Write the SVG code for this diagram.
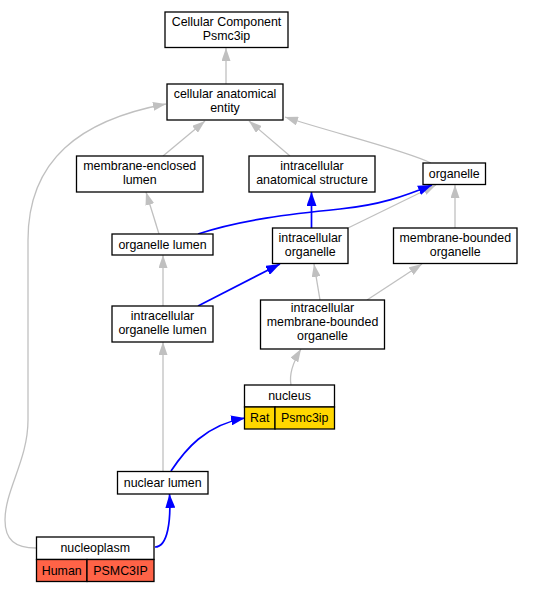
<svg xmlns="http://www.w3.org/2000/svg" width="533" height="592" viewBox="0 0 533 592">
<style>
.box{fill:#ffffff;stroke:#000000;stroke-width:1.3}
.rat{fill:#ffd700;stroke:#000000;stroke-width:1.3}
.hum{fill:#ff6347;stroke:#000000;stroke-width:1.3}
text{font-family:"Liberation Sans",Arial,sans-serif;font-size:12.4px;fill:#000000;text-anchor:middle}
.g{fill:none;stroke:#c0c0c0;stroke-width:1.3;marker-end:url(#ag)}
.b{fill:none;stroke:#0000ff;stroke-width:1.7;marker-end:url(#ab)}
</style>
<defs>
<marker id="ag" viewBox="0 0 13 9" markerWidth="13" markerHeight="9" refX="13" refY="4.5" orient="auto" markerUnits="userSpaceOnUse"><path d="M0,0 L13,4.5 L0,9 z" fill="#c0c0c0"/></marker>
<marker id="ab" viewBox="0 0 14 10" markerWidth="14" markerHeight="10" refX="14" refY="5" orient="auto" markerUnits="userSpaceOnUse"><path d="M0,0 L14,5 L0,10 z" fill="#0000ff"/></marker>
</defs>
<rect width="533" height="592" fill="#ffffff"/>
<g id="connectors">
<path class="g" d="M226,84 L226,48"/>
<path class="g" d="M163,156 L205,121"/>
<path class="g" d="M290,156 L249,121"/>
<path class="g" d="M431,163 C405,150 330,132 285,117"/>
<path class="g" d="M36,548 C15,548 5,540 5,520 C5,490 28,460 28,420 L28,240 C28,160 80,120 166,104"/>
<path class="g" d="M159,234 L146,192"/>
<path class="g" d="M348,228 L436,185"/>
<path class="g" d="M455,228 L455,185"/>
<path class="g" d="M163,306 L163,255"/>
<path class="g" d="M320,300 L314,264"/>
<path class="g" d="M367,300 L422,264"/>
<path class="g" d="M291,385 C289,375 292,364 301,349"/>
<path class="g" d="M163,471 L163,342"/>
<path class="b" d="M311.5,228 L311.5,192"/>
<path class="b" d="M198,234 C240,220 290,214 340,209 C380,205 405,196 432,185"/>
<path class="b" d="M198,306 L280,264"/>
<path class="b" d="M171,471 C185,450 205,425 245,418"/>
<path class="b" d="M155,547 C168,547 171,520 169.5,494"/>
</g>
<g id="cellular-component">
<rect class="box" x="165" y="12" width="123" height="35.5"/>
<text x="226.5" y="25.6">Cellular Component</text>
<text x="226.5" y="39.6">Psmc3ip</text>
</g>
<g id="cellular-anatomical-entity">
<rect class="box" x="167" y="84" width="116" height="36"/>
<text x="225" y="97.7">cellular anatomical</text>
<text x="225" y="111.7">entity</text>
</g>
<g id="membrane-enclosed-lumen">
<rect class="box" x="76.5" y="156" width="126.5" height="36"/>
<text x="139.75" y="169.7">membrane-enclosed</text>
<text x="139.75" y="183.7">lumen</text>
</g>
<g id="intracellular-anatomical-structure">
<rect class="box" x="249" y="156" width="126" height="36"/>
<text x="312" y="169.7">intracellular</text>
<text x="312" y="183.7">anatomical structure</text>
</g>
<g id="organelle">
<rect class="box" x="423" y="163" width="62.5" height="21.5"/>
<text x="454.25" y="178">organelle</text>
</g>
<g id="organelle-lumen">
<rect class="box" x="112" y="234" width="101" height="21"/>
<text x="162.5" y="248.8">organelle lumen</text>
</g>
<g id="intracellular-organelle">
<rect class="box" x="272.5" y="228" width="75.5" height="35.5"/>
<text x="310.25" y="241.6">intracellular</text>
<text x="310.25" y="255.6">organelle</text>
</g>
<g id="membrane-bounded-organelle">
<rect class="box" x="393.5" y="228" width="123.5" height="35.5"/>
<text x="455.25" y="241.6">membrane-bounded</text>
<text x="455.25" y="255.6">organelle</text>
</g>
<g id="intracellular-organelle-lumen">
<rect class="box" x="112" y="306" width="101" height="36"/>
<text x="162.5" y="319.7">intracellular</text>
<text x="162.5" y="333.7">organelle lumen</text>
</g>
<g id="intracellular-membrane-bounded-organelle">
<rect class="box" x="260.5" y="300" width="124" height="49"/>
<text x="322.5" y="312.4">intracellular</text>
<text x="322.5" y="326.4">membrane-bounded</text>
<text x="322.5" y="340.4">organelle</text>
</g>
<g id="nucleus">
<rect class="box" x="244.5" y="385" width="90" height="22"/>
<rect class="rat" x="244.5" y="407" width="30.5" height="22"/>
<rect class="rat" x="275" y="407" width="59.5" height="22"/>
<text x="289.5" y="400.3">nucleus</text>
<text x="259.75" y="422.3">Rat</text>
<text x="304.75" y="422.3">Psmc3ip</text>
</g>
<g id="nuclear-lumen">
<rect class="box" x="117.5" y="471.5" width="90.5" height="22.5"/>
<text x="162.75" y="486.8">nuclear lumen</text>
</g>
<g id="nucleoplasm">
<rect class="box" x="36.5" y="537" width="117.5" height="22.5"/>
<rect class="hum" x="36.5" y="559.5" width="50.5" height="22"/>
<rect class="hum" x="87" y="559.5" width="67" height="22"/>
<text x="95.25" y="552.3">nucleoplasm</text>
<text x="61.75" y="574.8">Human</text>
<text x="120.5" y="574.8">PSMC3IP</text>
</g>
</svg>
